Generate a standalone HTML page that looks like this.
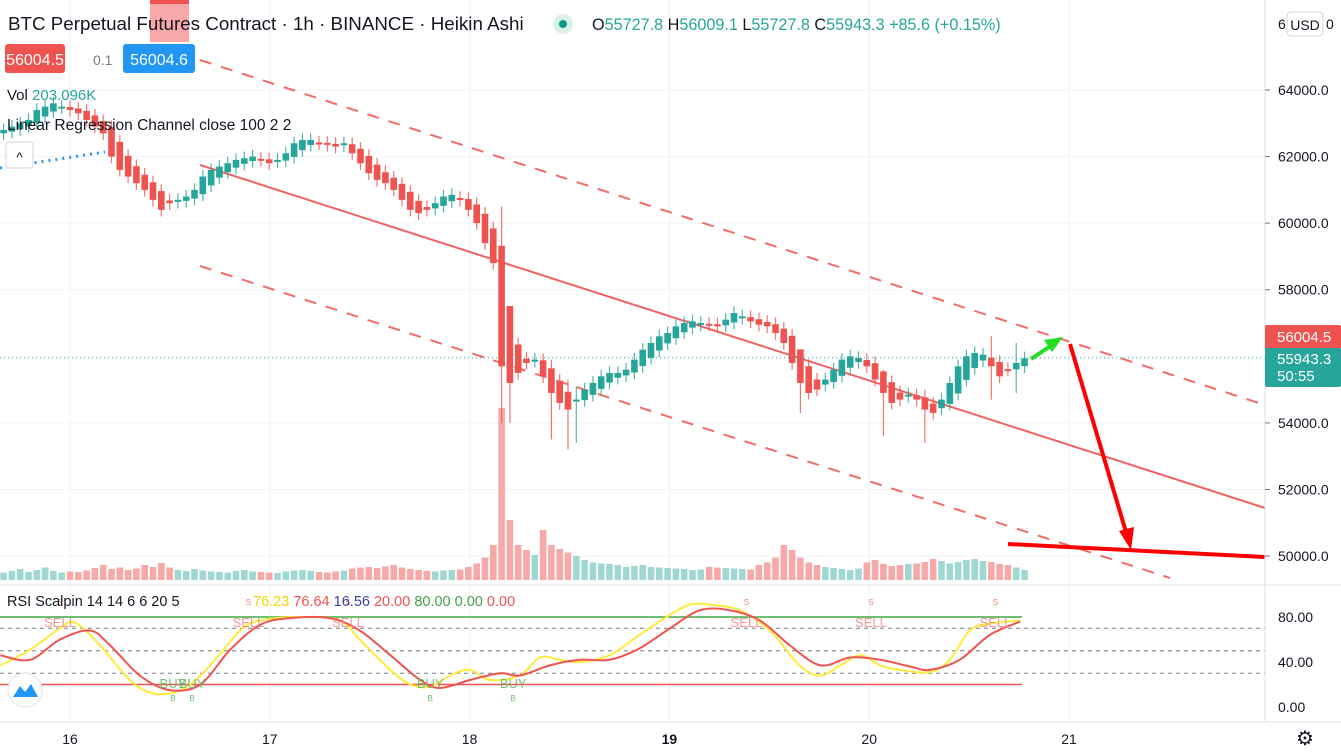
<!DOCTYPE html>
<html><head><meta charset="utf-8"><style>
html,body{margin:0;padding:0;background:#fff;width:1341px;height:754px;overflow:hidden}
svg{display:block;font-family:"Liberation Sans",sans-serif}
</style></head><body>
<svg id="chart" width="1341" height="754" viewBox="0 0 1341 754" xmlns="http://www.w3.org/2000/svg">
<g id="grid"></g>
<g id="vol"></g>
<g id="draw">
<line x1="200" y1="60" x2="1265" y2="405" stroke="#f05350" stroke-width="2" stroke-dasharray="12,10" opacity="0.85"/>
<line x1="200" y1="165" x2="1265" y2="508" stroke="#f05350" stroke-width="2" opacity="0.9"/>
<line x1="200" y1="266" x2="1170" y2="578" stroke="#f05350" stroke-width="2" stroke-dasharray="12,10" opacity="0.85"/>
<line x1="0" y1="168" x2="105" y2="152" stroke="#2196f3" stroke-width="3" stroke-dasharray="2,5"/>
</g>
<g id="candles"></g>
<g>
<line x1="1031" y1="359" x2="1052" y2="345" stroke="#22dd22" stroke-width="4"/>
<polygon points="1063,337 1044,340 1052,352" fill="#22dd22"/>
<line x1="1070" y1="344" x2="1126" y2="532" stroke="#ff0000" stroke-width="4"/>
<polygon points="1131,550 1119,531 1134,527" fill="#ff0000"/>
<line x1="1008" y1="544" x2="1265" y2="557" stroke="#ff0000" stroke-width="4"/>
</g>
<line x1="0" y1="358" x2="1265" y2="358" stroke="#26a69a" stroke-width="1" stroke-dasharray="1,3"/>
<line x1="0" y1="585" x2="1341" y2="585" stroke="#e0e3eb" stroke-width="1"/>
<g id="rsi"></g>
<line x1="1265" y1="0" x2="1265" y2="722" stroke="#e0e3eb"/>
<line x1="0" y1="722" x2="1341" y2="722" stroke="#e0e3eb"/>
<g id="axes" font-size="13" fill="#131722"></g>
<rect x="150" y="0" width="39" height="42" fill="#f8a8a8"/>
<rect x="150" y="0" width="39" height="4" fill="#f05350"/>
<text x="8" y="30" font-size="18.8" fill="#131722">BTC Perpetual Futures Contract · 1h · BINANCE · Heikin Ashi</text>
<circle cx="563" cy="24" r="10" fill="#dcefec"/><circle cx="563" cy="24" r="4" fill="#089981"/>
<text x="592" y="30" font-size="16.2" fill="#26a69a"><tspan fill="#131722">O</tspan>55727.8 <tspan fill="#131722">H</tspan>56009.1 <tspan fill="#131722">L</tspan>55727.8 <tspan fill="#131722">C</tspan>55943.3 +85.6 (+0.15%)</text>
<rect x="5" y="44" width="60" height="29" rx="3" fill="#ef5350"/>
<text x="35" y="65" font-size="16" fill="#fff" text-anchor="middle">56004.5</text>
<text x="93" y="65" font-size="14" fill="#787b86">0.1</text>
<rect x="123" y="44" width="72" height="29" rx="3" fill="#2196f3"/>
<text x="159" y="65" font-size="16" fill="#fff" text-anchor="middle">56004.6</text>
<text x="7" y="100" font-size="15" fill="#131722">Vol <tspan fill="#26a69a">203.096K</tspan></text>
<text x="7" y="130" font-size="15.5" fill="#131722">Linear Regression Channel close 100 2 2</text>
<rect x="6" y="142" width="27" height="26" rx="3" fill="#fff" stroke="#d1d4dc"/>
<text x="19.5" y="162" font-size="14" text-anchor="middle" fill="#131722">^</text>
<rect x="1287" y="12" width="36" height="24" rx="4" fill="#fff" stroke="#d1d4dc"/>
<text x="1305" y="30" font-size="14" text-anchor="middle" fill="#131722">USD</text>
<text x="1278" y="29" font-size="14" fill="#131722">6</text><text x="1326" y="29" font-size="14" fill="#131722">0</text>
<text x="7" y="606" font-size="14.5" fill="#131722">RSI Scalpin 14 14 6 6 20 5</text>
<text x="253" y="606" font-size="14.5"><tspan fill="#f5d400">76.23</tspan> <tspan fill="#f05350">76.64</tspan> <tspan fill="#3f3fa0">16.56</tspan> <tspan fill="#f05350">20.00</tspan> <tspan fill="#43a047">80.00</tspan> <tspan fill="#43a047">0.00</tspan> <tspan fill="#f05350">0.00</tspan></text>
<circle cx="25" cy="690" r="17" fill="#fff" stroke="#e0e3eb"/>
<path d="M13,697 L20,686 L25,692 L31,684 L38,697 Z" fill="#2196f3"/>
<g>
<rect x="1265" y="325" width="76" height="24" rx="2" fill="#ef5350"/><text x="1277" y="342" font-size="15" fill="#fff">56004.5</text>
<rect x="1265" y="348" width="76" height="39" rx="2" fill="#26a69a"/><text x="1277" y="364" font-size="15" fill="#fff">55943.3</text><text x="1277" y="381" font-size="15" fill="#fff">50:55</text>
</g>
<text x="1305" y="745" font-size="20" text-anchor="middle" fill="#131722">⚙</text>
</svg>
<script>
const closes=[62800,62900,63000,63100,63400,63500,63600,63500,
63400,63300,63100,62900,62700,62000,61600,61400,61200,61000,60700,60400,
60600,60700,60800,61000,61400,61600,61700,61800,61900,61950,62000,61900,
61800,61900,62100,62400,62500,62500,62400,62350,62300,62400,62100,61800,
61500,61300,61200,61000,60700,60400,60300,60400,60600,60800,60850,60700,
60400,60000,59400,58800,55700,55200,55500,55800,55900,55400,54900,54600,
54400,54700,55000,55200,55400,55500,55500,55600,55900,56200,56400,56600,
56700,56900,57000,57050,57000,56950,56900,57100,57300,57200,57050,56950,
56900,56700,56400,55800,55200,54900,55000,55300,55600,55900,56000,55950,
55700,55300,54900,54600,54700,54850,54700,54400,54300,54700,55200,55700,
56000,56100,56050,55700,55400,55600,55800,55943];
const volumes=[150,180,220,160,200,250,180,150,
170,160,190,240,300,220,250,200,230,300,260,340,
250,200,180,220,190,170,160,150,180,200,170,160,
150,140,170,190,200,180,160,150,170,190,230,250,
260,240,270,300,250,220,200,180,170,190,200,210,
260,330,450,700,3440,1200,700,600,500,1000,700,620,
550,480,400,350,330,320,300,260,280,300,260,250,
240,230,220,200,210,260,250,240,230,220,210,300,
350,450,700,600,450,350,300,260,240,220,200,230,
350,400,320,280,300,320,330,360,420,380,330,360,
400,420,380,360,320,300,250,200];
const firstHour=-8;
const wickOverrides=[[53,54000,56200],[58,53500,55900],[60,53200,55300],[61,53400,55100],[88,54300,56000],[98,53600,55600],[103,53400,55000],[111,54700,56600],[114,54900,56400]];
const priceTicks=[50000,52000,54000,56000,58000,60000,62000,64000];
const dayLabels=["16","17","18","19","20","21"];
const rsiHours=[-8.4,-4.8,-1.2,0.6,3.6,7.2,9.6,12,14.5,17.5,20.5,22.9,27.7,32.5,34.9,38.6,41,43.4,45.8,48.2,50.6,54.2,56.6,59,61.4,65,68.6,72.3,74.7,77.1,80.7,84.3,87.9,90.4,92.8,95.2,97.6,100,103.6,106,108.4,110.8,114.5];
const rsiFast=[37,51,70,75,55,24,13,12,20,42,68,77,80,77,60,33,20,18,28,33,24,28,44,42,40,46,64,82,91,91,86,68,37,28,37,46,37,33,31,42,68,74,77];
const rsiSlowHours=[-8.4,-4.8,-1.2,2.4,4.8,8.4,12,15.7,19.3,22.9,26.5,31.3,34.9,38.6,42.2,44.6,48.2,51.8,54.2,57.8,61.4,65,68.6,72.3,75.9,79.5,83.1,86.7,90.4,94,97.6,101.2,103.6,107.2,110.8,114.5];
const rsiSlow=[46,42,60,68,55,28,15,20,51,73,79,79,68,46,24,17,24,30,28,37,42,42,52,70,86,86,77,55,37,44,42,36,33,42,64,76];
const rsiLevels=[70,50,30];
const sellHours=[-1.2,21.5,33.5,81.5,96.5,111.5];
const buyHours=[12.4,14.7,43.4,53.4];

const NS="http://www.w3.org/2000/svg";
const xOf=h=>70+h*8.3;
const yOf=p=>90+(64000-p)*0.03329;
const ryOf=v=>707-v*1.125;
function mk(tag,attrs,parent){const e=document.createElementNS(NS,tag);for(const k in attrs)e.setAttribute(k,attrs[k]);parent.appendChild(e);return e;}
const grid=document.getElementById('grid'),axes=document.getElementById('axes');
priceTicks.forEach(p=>{
 const g=mk('line',{x1:0,x2:1265,y1:yOf(p),y2:yOf(p),stroke:'#f0f3fa'},grid);
 
 const t=mk('text',{x:1278,y:yOf(p)+5,'font-size':14},axes);t.textContent=p.toFixed(1);
 
 mk('line',{x1:1265,x2:1270,y1:yOf(p),y2:yOf(p),stroke:'#787b86'},axes);
});
dayLabels.forEach((d,i)=>{
 const x=xOf(i*24)+i*0.6;
 const g=mk('line',{x1:x,x2:x,y1:0,y2:722,stroke:'#f0f3fa'},grid);
 
 const t=mk('text',{x:x,y:744,'font-size':14,'text-anchor':'middle','font-weight':d==='19'?'bold':'normal'},axes);t.textContent=d;
 
});
const cg=document.getElementById('candles'),vg=document.getElementById('vol');
let open=62700,prevOpen=62700,prevClose=62700;
closes.forEach((c,i)=>{
 const h=firstHour+i;
 if(i>0)open=(prevOpen+prevClose)/2;
 const up=c>=open;
 let lo=Math.min(open,c)-200,hi=Math.max(open,c)+200;
 wickOverrides.forEach(w=>{if(w[0]===h){lo=w[1];hi=w[2];}});
 if(h===52){lo=54000;hi=60500;}
 const x=xOf(h),col=up?'#26a69a':'#ef5350';
 const wk=mk('line',{x1:x,x2:x,y1:yOf(hi),y2:yOf(lo),stroke:col,'stroke-width':1.2,opacity:0.8},cg);
 
 const top=yOf(Math.max(open,c)),bh=Math.max(2,yOf(Math.min(open,c))-top);
 const b=mk('rect',{x:x-3.3,y:top,width:6.6,height:bh,fill:col},cg);
 
 const vh=volumes[i]*0.05;
 const v=mk('rect',{x:x-3.3,y:580-vh,width:6.6,height:vh,fill:up?'#9fd8d2':'#f7a9a7'},vg);
 
 prevOpen=open;prevClose=c;
});
const rg=document.getElementById('rsi');
rsiLevels.forEach(l=>{const e=mk('line',{x1:0,x2:1265,y1:ryOf(l),y2:ryOf(l),stroke:'#787b86','stroke-dasharray':'4,4','stroke-width':1},rg);
 });
const up80=mk('line',{x1:0,x2:1022,y1:ryOf(80),y2:ryOf(80),stroke:'#4caf50','stroke-width':2,opacity:0.8},rg);

const dn20=mk('line',{x1:0,x2:1022,y1:ryOf(20),y2:ryOf(20),stroke:'#f05350','stroke-width':1.5},rg);

[[80,'80.00'],[40,'40.00'],[0,'0.00']].forEach(a=>{const t=mk('text',{x:1278,y:ryOf(a[0])+5,'font-size':14},axes);t.textContent=a[1];
 });
function smooth(hs,vs){let d='';const pts=hs.map((h,i)=>[xOf(h),ryOf(vs[i])]);
 pts.forEach((p,i)=>{if(i===0){d+='M'+p[0]+','+p[1];return;}const p0=pts[i-1],pm=pts[i-2]||p0,pn=pts[i+1]||p;
 const c1x=p0[0]+(p[0]-pm[0])/6,c1y=p0[1]+(p[1]-pm[1])/6,c2x=p[0]-(pn[0]-p0[0])/6,c2y=p[1]-(pn[1]-p0[1])/6;
 d+=` C${c1x},${c1y} ${c2x},${c2y} ${p[0]},${p[1]}`;});return d;}
const fy=mk('path',{d:smooth(rsiHours,rsiFast),fill:'none',stroke:'#ffeb3b','stroke-width':2},rg);

const sr=mk('path',{d:smooth(rsiSlowHours,rsiSlow),fill:'none',stroke:'#f05350','stroke-width':2},rg);

sellHours.forEach(h=>{const t=mk('text',{x:xOf(h),y:627,'font-size':13,fill:'#f77c7a','text-anchor':'middle',opacity:0.8},rg);t.textContent='SELL';
 
 const s=mk('text',{x:xOf(h),y:605,'font-size':8,fill:'#f77c7a','text-anchor':'middle'},rg);s.textContent='S';
 });
buyHours.forEach(h=>{const t=mk('text',{x:xOf(h),y:688,'font-size':13,fill:'#66bb6a','text-anchor':'middle',opacity:0.9},rg);t.textContent='BUY';
 
 const s=mk('text',{x:xOf(h),y:701,'font-size':8,fill:'#66bb6a','text-anchor':'middle'},rg);s.textContent='B';
 });
</script>
</body></html>
